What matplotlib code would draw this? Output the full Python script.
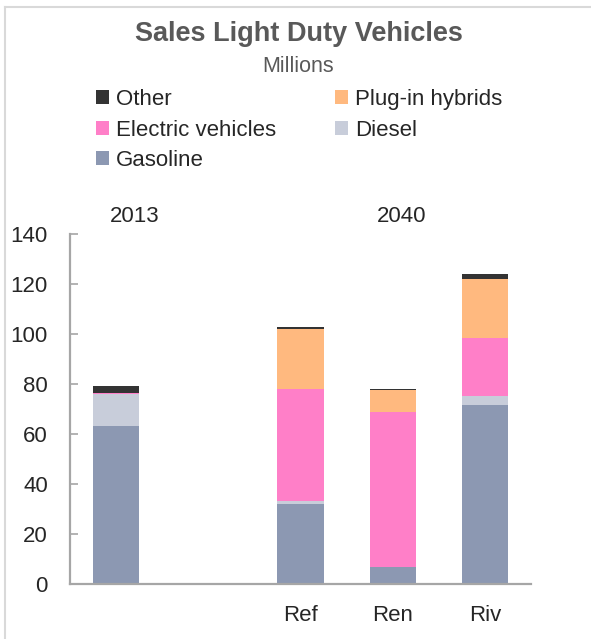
import matplotlib.pyplot as plt
from matplotlib.lines import Line2D
import numpy as np

plt.rcParams['font.family'] = ['Liberation Sans', 'DejaVu Sans']

# Sales of light duty vehicles (millions); an empty slot separates 2013 from the 2040 cases
categories = ["", "", "Ref", "Ren", "Riv"]
gasoline = [63.2, 0, 32.1, 6.8, 71.5]
diesel = [13.0, 0, 1.2, 0.0, 3.7]
electric = [0.2, 0, 44.7, 62.2, 23.2]
plugin = [0.0, 0, 23.9, 8.7, 23.5]
other = [2.9, 0, 0.9, 0.3, 2.1]

series = [
    ("Gasoline", gasoline, "#8c98b2"),
    ("Diesel", diesel, "#c8cdda"),
    ("Electric vehicles", electric, "#ff7fc8"),
    ("Plug-in hybrids", plugin, "#ffb97f"),
    ("Other", other, "#333333"),
]

fig = plt.figure(figsize=(5.91, 6.39), dpi=100)
ax = fig.add_axes([70 / 591, 55 / 639, 461 / 591, 350 / 639])

x = np.arange(len(categories))
bottom = np.zeros(len(categories))
handles = {}
for name, vals, color in series:
    vals = np.array(vals, dtype=float)
    handles[name] = ax.bar(x, vals, width=0.5, bottom=bottom, color=color,
                           edgecolor="none", label=name)
    bottom += vals

ax.set_xlim(-0.5, len(categories) - 0.5)
ax.set_ylim(0, 140)
ax.set_yticks(range(0, 141, 20))
ax.set_xticks(x)
ax.set_xticklabels(categories)
ax.tick_params(axis="y", direction="in", length=6, width=1.2, color="#a6a6a6",
               labelsize=16, labelcolor="#262626", pad=16)
ax.tick_params(axis="x", length=0, labelsize=16, labelcolor="#262626", pad=15)
for side in ("top", "right"):
    ax.spines[side].set_visible(False)
for side in ("left", "bottom"):
    ax.spines[side].set_color("#a6a6a6")
    ax.spines[side].set_linewidth(1.6)

# period labels above the bars
ax.text(0.2, 147.0, "2013", ha="center", va="center", fontsize=16, color="#262626")
ax.text(3.1, 147.0, "2040", ha="center", va="center", fontsize=16, color="#262626")

fig.text(299 / 591, 1 - 34 / 639, "Sales Light Duty Vehicles", ha="center", va="center",
         fontsize=19.5, fontweight="bold", color="#595959")
fig.text(298 / 591, 1 - 67 / 639, "Millions", ha="center", va="center",
         fontsize=15.5, color="#595959")

order = ["Other", "Electric vehicles", "Gasoline", "Plug-in hybrids", "Diesel"]
fig.legend([handles[n] for n in order], order, ncol=2, frameon=False,
           loc="upper left", bbox_to_anchor=(96 / 591, 1 - 89 / 639),
           fontsize=16, handlelength=0.6, handleheight=0.6, handletextpad=0.3,
           labelspacing=0.43, columnspacing=2.65, borderaxespad=0, borderpad=0,
           labelcolor="#262626")

# outer frame of the chart area
fig.add_artist(Line2D([5 / 591, 5 / 591], [0, 1 - 7 / 639], transform=fig.transFigure,
                      color="#d9d9d9", linewidth=1.5))
fig.add_artist(Line2D([5 / 591, 1], [1 - 7 / 639, 1 - 7 / 639], transform=fig.transFigure,
                      color="#d9d9d9", linewidth=1.5))

fig.savefig("out.png", dpi=100)
